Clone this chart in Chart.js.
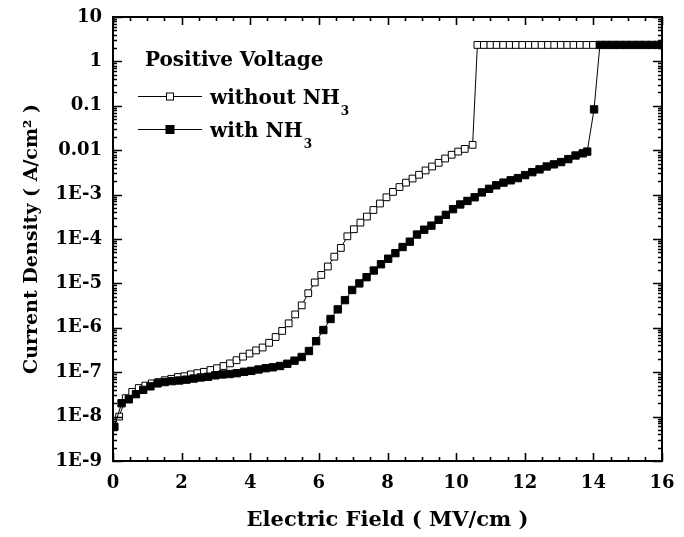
<!DOCTYPE html>
<html>
<head>
<meta charset="utf-8">
<script src="https://cdn.jsdelivr.net/npm/chart.js@4.4.1/dist/chart.umd.min.js"></script>
<style>
  html, body { margin: 0; padding: 0; background: #fff; }
</style>
</head>
<body>
<canvas id="chart" width="684" height="537"></canvas>
<script>
// electric field (MV/cm) and current density (A/cm^2)
const fieldWithout = [
  0.18, 0.37, 0.56, 0.75, 0.94, 1.13, 1.32, 1.51, 1.70, 1.89,
  2.08, 2.27, 2.46, 2.65, 2.84, 3.03, 3.22, 3.41, 3.60, 3.79,
  3.98, 4.17, 4.36, 4.55, 4.74, 4.93, 5.12, 5.31, 5.50, 5.69,
  5.88, 6.07, 6.26, 6.45, 6.64, 6.83, 7.02, 7.21, 7.40, 7.59,
  7.78, 7.97, 8.16, 8.35, 8.54, 8.73, 8.92, 9.11, 9.30, 9.49,
  9.68, 9.87, 10.06, 10.25, 10.48,
  10.62, 10.81, 11.00, 11.18, 11.37, 11.56, 11.74, 11.93, 12.12, 12.30,
  12.49, 12.68, 12.86, 13.05, 13.24, 13.42, 13.61, 13.80, 13.99
];
const jWithout = [
  1.0e-8, 2.6e-8, 3.6e-8, 4.4e-8, 5.0e-8, 5.6e-8, 6.0e-8, 6.6e-8, 7.1e-8, 7.8e-8,
  8.1e-8, 8.9e-8, 9.5e-8, 1.02e-7, 1.12e-7, 1.23e-7, 1.38e-7, 1.58e-7, 1.86e-7, 2.24e-7,
  2.63e-7, 3.1e-7, 3.6e-7, 4.6e-7, 6.2e-7, 8.5e-7, 1.26e-6, 2.0e-6, 3.2e-6, 6.0e-6,
  1.05e-5, 1.55e-5, 2.4e-5, 4.0e-5, 6.3e-5, 1.15e-4, 1.66e-4, 2.34e-4, 3.2e-4, 4.5e-4,
  6.3e-4, 8.7e-4, 1.15e-3, 1.48e-3, 1.86e-3, 2.3e-3, 2.8e-3, 3.5e-3, 4.3e-3, 5.2e-3,
  6.5e-3, 7.9e-3, 9.3e-3, 1.07e-2, 1.32e-2,
  2.35, 2.35, 2.35, 2.35, 2.35, 2.35, 2.35, 2.35, 2.35, 2.35,
  2.35, 2.35, 2.35, 2.35, 2.35, 2.35, 2.35, 2.35, 2.35
];
const fieldWith = [
  0.04, 0.25, 0.46, 0.67, 0.88, 1.09, 1.30, 1.51, 1.72, 1.93,
  2.14, 2.35, 2.56, 2.77, 2.98, 3.19, 3.40, 3.61, 3.82, 4.03,
  4.24, 4.45, 4.66, 4.87, 5.08, 5.29, 5.50, 5.71, 5.92, 6.13,
  6.34, 6.55, 6.76, 6.97, 7.18, 7.39, 7.60, 7.81, 8.02, 8.23,
  8.44, 8.65, 8.86, 9.07, 9.28, 9.49, 9.70, 9.91, 10.12, 10.33,
  10.54, 10.75, 10.96, 11.17, 11.38, 11.59, 11.80, 12.01, 12.22, 12.43,
  12.64, 12.85, 13.06, 13.27, 13.48, 13.69, 13.82,
  14.02,
  14.19, 14.38, 14.57, 14.76, 14.95, 15.14, 15.33, 15.52, 15.71, 15.90, 16.00
];
const jWith = [
  5.9e-9, 2.0e-8, 2.45e-8, 3.2e-8, 4.0e-8, 4.8e-8, 5.6e-8, 6.0e-8, 6.3e-8, 6.5e-8,
  6.8e-8, 7.2e-8, 7.6e-8, 7.9e-8, 8.5e-8, 8.9e-8, 9.1e-8, 9.5e-8, 1.02e-7, 1.07e-7,
  1.15e-7, 1.23e-7, 1.29e-7, 1.38e-7, 1.55e-7, 1.82e-7, 2.2e-7, 3.0e-7, 5.0e-7, 8.9e-7,
  1.58e-6, 2.6e-6, 4.2e-6, 7.1e-6, 1.0e-5, 1.38e-5, 1.95e-5, 2.7e-5, 3.6e-5, 4.8e-5,
  6.6e-5, 8.7e-5, 1.26e-4, 1.62e-4, 2.0e-4, 2.7e-4, 3.5e-4, 4.7e-4, 6.0e-4, 7.2e-4,
  8.7e-4, 1.12e-3, 1.35e-3, 1.62e-3, 1.86e-3, 2.1e-3, 2.35e-3, 2.75e-3, 3.2e-3, 3.7e-3,
  4.3e-3, 4.8e-3, 5.4e-3, 6.3e-3, 7.6e-3, 8.5e-3, 9.3e-3,
  8.3e-2,
  2.35, 2.35, 2.35, 2.35, 2.35, 2.35, 2.35, 2.35, 2.35, 2.35, 2.35
];

const yTickValues = [1e-9, 1e-8, 1e-7, 1e-6, 1e-5, 1e-4, 1e-3, 0.01, 0.1, 1, 10];
const yTickLabels = ['1E-9', '1E-8', '1E-7', '1E-6', '1E-5', '1E-4', '1E-3', '0.01', '0.1', '1', '10'];
const legendTitle = 'Positive Voltage';
const seriesNames = ['without NH', 'with NH'];

const serif = '"DejaVu Serif", "Liberation Serif", serif';

function toPoints(xs, ys) {
  return xs.map((x, i) => ({ x: x, y: ys[i] }));
}

// inward ticks on all four sides plus the box
const frameTicks = {
  id: 'frameTicks',
  afterDatasetsDraw(chart) {
    const ctx = chart.ctx;
    const a = chart.chartArea;
    const xs = chart.scales.x, ys = chart.scales.y;
    ctx.save();
    ctx.strokeStyle = '#000';
    ctx.lineWidth = 1.6;
    ctx.beginPath();
    for (let v = 0; v <= 16.001; v += 0.5) {
      const px = Math.round(xs.getPixelForValue(v)) + 0.5;
      const len = (Math.abs(v % 2) < 1e-6) ? 8 : 4;
      ctx.moveTo(px, a.bottom); ctx.lineTo(px, a.bottom - len);
      ctx.moveTo(px, a.top); ctx.lineTo(px, a.top + len);
    }
    for (let d = -9; d <= 1; d++) {
      for (let k = 1; k <= 9; k++) {
        if (d === 1 && k > 1) break;
        const py = Math.round(ys.getPixelForValue(k * Math.pow(10, d))) + 0.5;
        const len = k === 1 ? 9 : 4;
        ctx.moveTo(a.left, py); ctx.lineTo(a.left + len, py);
        ctx.moveTo(a.right, py); ctx.lineTo(a.right - len, py);
      }
    }
    ctx.stroke();
    ctx.lineWidth = 2;
    ctx.strokeRect(a.left, a.top, a.right - a.left, a.bottom - a.top);
    ctx.restore();
  }
};

// legend box inside the plot, with subscripts
const innerLegend = {
  id: 'innerLegend',
  afterDraw(chart) {
    const ctx = chart.ctx;
    ctx.save();
    ctx.fillStyle = '#000';
    ctx.textBaseline = 'alphabetic';
    ctx.font = 'bold 20px ' + serif;
    ctx.fillText(legendTitle, 145, 66);
    const rows = [96.5, 129.5];
    const bases = [104, 136.5];
    rows.forEach((y, i) => {
      ctx.strokeStyle = '#000';
      ctx.lineWidth = 1;
      ctx.beginPath();
      ctx.moveTo(138, y); ctx.lineTo(202, y);
      ctx.stroke();
      if (i === 0) {
        ctx.fillStyle = '#fff';
        ctx.fillRect(166, y - 4, 8, 8);
        ctx.strokeRect(166.5, y - 3.5, 7, 7);
      } else {
        ctx.fillStyle = '#000';
        ctx.fillRect(165.5, y - 4.5, 9, 9);
      }
      ctx.fillStyle = '#000';
      ctx.font = 'bold 20px ' + serif;
      ctx.fillText(seriesNames[i], 210, bases[i]);
      const w = ctx.measureText(seriesNames[i]).width;
      ctx.font = 'bold 12px ' + serif;
      ctx.fillText('3', 210 + w + 1, bases[i] + 11);
    });
    ctx.restore();
  }
};

new Chart(document.getElementById('chart'), {
  type: 'scatter',
  data: {
    datasets: [
      {
        label: 'with NH3',
        data: toPoints(fieldWith, jWith),
        showLine: true,
        borderColor: '#000',
        borderWidth: 1,
        pointStyle: 'rect',
        pointRadius: 5.2,
        pointBackgroundColor: '#000',
        pointBorderColor: '#000',
        pointBorderWidth: 1,
        order: 0
      },
      {
        label: 'without NH3',
        data: toPoints(fieldWithout, jWithout),
        showLine: true,
        borderColor: '#000',
        borderWidth: 1,
        pointStyle: 'rect',
        pointRadius: 4.8,
        pointBackgroundColor: '#fff',
        pointBorderColor: '#000',
        pointBorderWidth: 1,
        order: 1
      }
    ]
  },
  options: {
    responsive: false,
    animation: false,
    devicePixelRatio: 1,
    layout: { padding: { top: 17, right: 22, left: 0, bottom: 0 } },
    plugins: {
      legend: { display: false },
      tooltip: { enabled: false }
    },
    scales: {
      x: {
        type: 'linear',
        min: 0,
        max: 16,
        grid: { display: false, drawTicks: false },
        border: { display: false },
        ticks: {
          stepSize: 2,
          color: '#000',
          padding: 12,
          font: { family: serif, size: 18, weight: 'bold' }
        },
        title: {
          display: true,
          text: 'Electric Field ( MV/cm )',
          color: '#000',
          font: { family: serif, size: 21, weight: 'bold' },
          padding: { top: 0, bottom: 4 }
        },
        afterFit(scale) {
          scale.height = 76;
          scale.paddingLeft = 0;
          scale.paddingRight = 0;
        }
      },
      y: {
        type: 'logarithmic',
        min: 1e-9,
        max: 10,
        grid: { display: false, drawTicks: false },
        border: { display: false },
        afterBuildTicks(scale) {
          scale.ticks = yTickValues.map(v => ({ value: v }));
        },
        ticks: {
          color: '#000',
          padding: 11,
          autoSkip: false,
          font: { family: serif, size: 18, weight: 'bold' },
          callback(value) {
            const i = yTickValues.findIndex(t => Math.abs(Math.log10(t) - Math.log10(value)) < 1e-6);
            return i >= 0 ? yTickLabels[i] : '';
          }
        },
        title: {
          display: true,
          text: 'Current Density ( A/cm² )',
          color: '#000',
          font: { family: serif, size: 19, weight: 'bold' },
          padding: { top: 21, bottom: 0 }
        },
        afterFit(scale) {
          scale.width = 113;
          scale.paddingTop = 0;
          scale.paddingBottom = 0;
        }
      }
    }
  },
  plugins: [frameTicks, innerLegend]
});
</script>
</body>
</html>
